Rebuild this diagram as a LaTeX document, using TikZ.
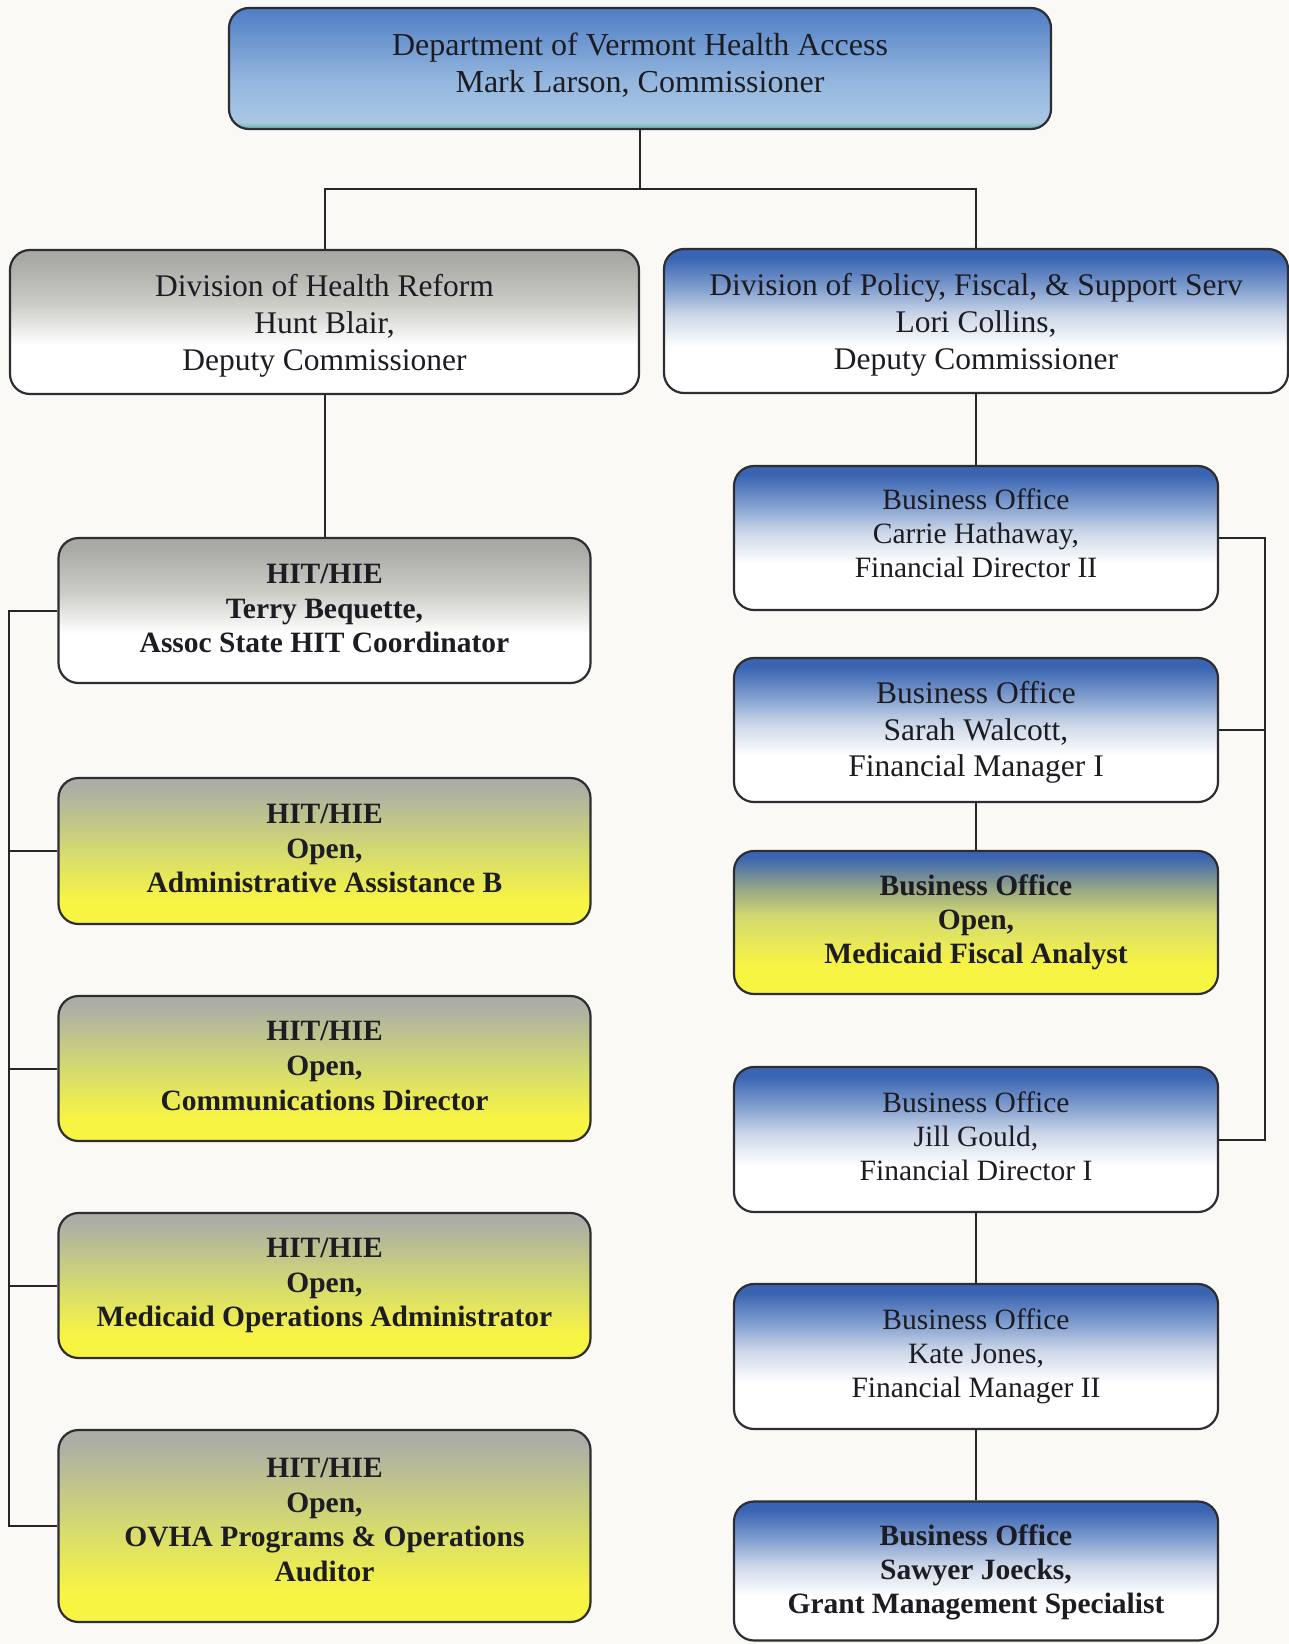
\documentclass[tikz,border=0pt]{standalone}
\usepackage{fontspec}
\setmainfont{Liberation Serif}
\definecolor{bgc}{RGB}{250,249,246}
\definecolor{edge}{RGB}{45,45,50}
\definecolor{txt}{RGB}{28,28,34}
\definecolor{bluetop}{RGB}{58,100,178}
\definecolor{bluemid}{RGB}{125,155,205}
\definecolor{bluelight}{RGB}{205,215,232}
\definecolor{graytop}{RGB}{168,168,164}
\definecolor{graymid}{RGB}{205,205,200}
\definecolor{ylw}{RGB}{248,244,68}
\definecolor{ylwmid}{RGB}{212,218,112}
\definecolor{gygray}{RGB}{172,174,166}
\definecolor{bymid}{RGB}{150,165,135}
\definecolor{toptop}{RGB}{78,126,196}
\definecolor{topmid}{RGB}{148,182,222}
\definecolor{toplow}{RGB}{170,200,228}
\definecolor{topteal}{RGB}{105,185,165}
\pgfdeclareverticalshading{bluewhite}{100bp}{color(0bp)=(white); color(25bp)=(white); color(41bp)=(white); color(52bp)=(bluelight); color(62bp)=(bluemid); color(72bp)=(bluetop); color(100bp)=(bluetop)}
\pgfdeclareverticalshading{graywhite}{100bp}{color(0bp)=(white); color(25bp)=(white); color(42bp)=(white); color(56bp)=(graymid); color(72bp)=(graytop); color(100bp)=(graytop)}
\pgfdeclareverticalshading{grayyellow}{100bp}{color(0bp)=(ylw); color(25bp)=(ylw); color(33bp)=(ylw); color(50bp)=(ylwmid); color(72bp)=(gygray); color(100bp)=(gygray)}
\pgfdeclareverticalshading{blueyellow}{100bp}{color(0bp)=(ylw); color(25bp)=(ylw); color(35bp)=(ylw); color(52bp)=(ylwmid); color(62bp)=(bymid); color(73bp)=(bluetop); color(100bp)=(bluetop)}
\pgfdeclareverticalshading{topshade}{100bp}{color(0bp)=(topteal); color(25bp)=(topteal); color(28bp)=(toplow); color(45bp)=(topmid); color(75bp)=(toptop); color(100bp)=(toptop)}
\tikzset{
  box/.style={draw=edge, line width=2.2pt, rounded corners=20pt, inner sep=0pt},
  lbl/.style={align=center, text=txt, inner sep=0pt},
  conn/.style={draw=black!85, line width=2pt},
  fTop/.style={font=\fontsize{32}{38}\selectfont},
  fDiv/.style={font=\fontsize{31.5}{36.7}\selectfont},
  fHit/.style={font=\fontsize{29.5}{34.6}\selectfont\bfseries},
  fBo/.style={font=\fontsize{29.5}{34}\selectfont},
  fBoL/.style={font=\fontsize{31.5}{36.7}\selectfont},
  fBoB/.style={font=\fontsize{29.5}{34}\selectfont\bfseries},
}
\begin{document}
\begin{tikzpicture}[x=1pt,y=-1pt]
\fill[bgc] (0,0) rectangle (1289,1644);
\useasboundingbox (0,0) rectangle (1289,1644);
% boxes
\node[box, shading=topshade, minimum width=822pt, minimum height=121pt] (top) at (640,68.5) {};
\node[box, shading=graywhite, minimum width=629pt, minimum height=144pt] (dhr) at (324.5,322) {};
\node[box, shading=bluewhite, minimum width=624pt, minimum height=144pt] (dpf) at (976,321) {};
\node[box, shading=graywhite, minimum width=532pt, minimum height=145pt] (hit1) at (324.5,610.5) {};
\node[box, shading=grayyellow, minimum width=532pt, minimum height=146pt] (hit2) at (324.5,851) {};
\node[box, shading=grayyellow, minimum width=532pt, minimum height=145pt] (hit3) at (324.5,1068.5) {};
\node[box, shading=grayyellow, minimum width=532pt, minimum height=145pt] (hit4) at (324.5,1285.5) {};
\node[box, shading=grayyellow, minimum width=532pt, minimum height=192pt] (hit5) at (324.5,1526) {};
\node[box, shading=bluewhite, minimum width=484pt, minimum height=144pt] (bo1) at (976,538) {};
\node[box, shading=bluewhite, minimum width=484pt, minimum height=144pt] (bo2) at (976,730) {};
\node[box, shading=blueyellow, minimum width=484pt, minimum height=143pt] (bo3) at (976,922.5) {};
\node[box, shading=bluewhite, minimum width=484pt, minimum height=145pt] (bo4) at (976,1139.5) {};
\node[box, shading=bluewhite, minimum width=484pt, minimum height=145pt] (bo5) at (976,1356.5) {};
\node[box, shading=bluewhite, minimum width=484pt, minimum height=139pt] (bo6) at (976,1571) {};
% texts
\node[lbl, fTop] (topt) at ([yshift=3pt]top.center)
  {Department of Vermont Health Access\\[-1pt]Mark Larson, Commissioner};
\node[lbl, fDiv] (dhrt) at ([yshift=-4pt]dhr.center)
  {Division of Health Reform\\Hunt Blair,\\Deputy Commissioner};
\node[lbl, fDiv] (dpft) at ([yshift=-4pt]dpf.center)
  {Division of Policy, Fiscal, \& Support Serv\\Lori Collins,\\Deputy Commissioner};
\node[lbl, fHit] (hit1t) at ([yshift=2pt]hit1.center)
  {HIT/HIE\\Terry Bequette,\\Assoc State HIT Coordinator};
\node[lbl, fHit] (hit2t) at ([yshift=2.5pt]hit2.center)
  {HIT/HIE\\Open,\\Administrative Assistance B};
\node[lbl, fHit] (hit3t) at ([yshift=2.5pt]hit3.center)
  {HIT/HIE\\Open,\\Communications Director};
\node[lbl, fHit] (hit4t) at (hit4.center)
  {HIT/HIE\\Open,\\Medicaid Operations Administrator};
\node[lbl, fHit] (hit5t) at ([yshift=6pt]hit5.center)
  {HIT/HIE\\Open,\\OVHA Programs \& Operations\\Auditor};
\node[lbl, fBo] (bo1t) at ([yshift=5pt]bo1.center)
  {Business Office\\Carrie Hathaway,\\Financial Director II};
\node[lbl, fBoL] (bo2t) at ([yshift=-2.5pt]bo2.center)
  {Business Office\\Sarah Walcott,\\Financial Manager I};
\node[lbl, fBoB] (bo3t) at (bo3.center)
  {Business Office\\Open,\\Medicaid Fiscal Analyst};
\node[lbl, fBo] (bo4t) at ([yshift=3pt]bo4.center)
  {Business Office\\Jill Gould,\\Financial Director I};
\node[lbl, fBo] (bo5t) at (bo5.center)
  {Business Office\\Kate Jones,\\Financial Manager II};
\node[lbl, fBoB] (bo6t) at ([yshift=-1pt]bo6.center)
  {Business Office\\Sawyer Joecks,\\Grant Management Specialist};
% connectors
\coordinate (split) at (640,189);
\coordinate (lb) at (9,0);
\coordinate (rb) at (1265,0);
\draw[conn] (top.south) -- (split);
\draw[conn] (split) -| (dhr.north);
\draw[conn] (split) -| (dpf.north);
\draw[conn] (dhr.south) -- (hit1.north);
\draw[conn] (dpf.south) -- (bo1.north);
\draw[conn] (hit1.west) -- (hit1.west -| lb) -- (hit5.west -| lb) -- (hit5.west);
\draw[conn] (hit2.west) -- (hit2.west -| lb);
\draw[conn] (hit3.west) -- (hit3.west -| lb);
\draw[conn] (hit4.west) -- (hit4.west -| lb);
\draw[conn] (bo1.east) -- (bo1.east -| rb) -- (bo4.east -| rb) -- (bo4.east);
\draw[conn] (bo2.east) -- (bo2.east -| rb);
\draw[conn] (bo2.south) -- (bo3.north);
\draw[conn] (bo4.south) -- (bo5.north);
\draw[conn] (bo5.south) -- (bo6.north);
\end{tikzpicture}
\end{document}
